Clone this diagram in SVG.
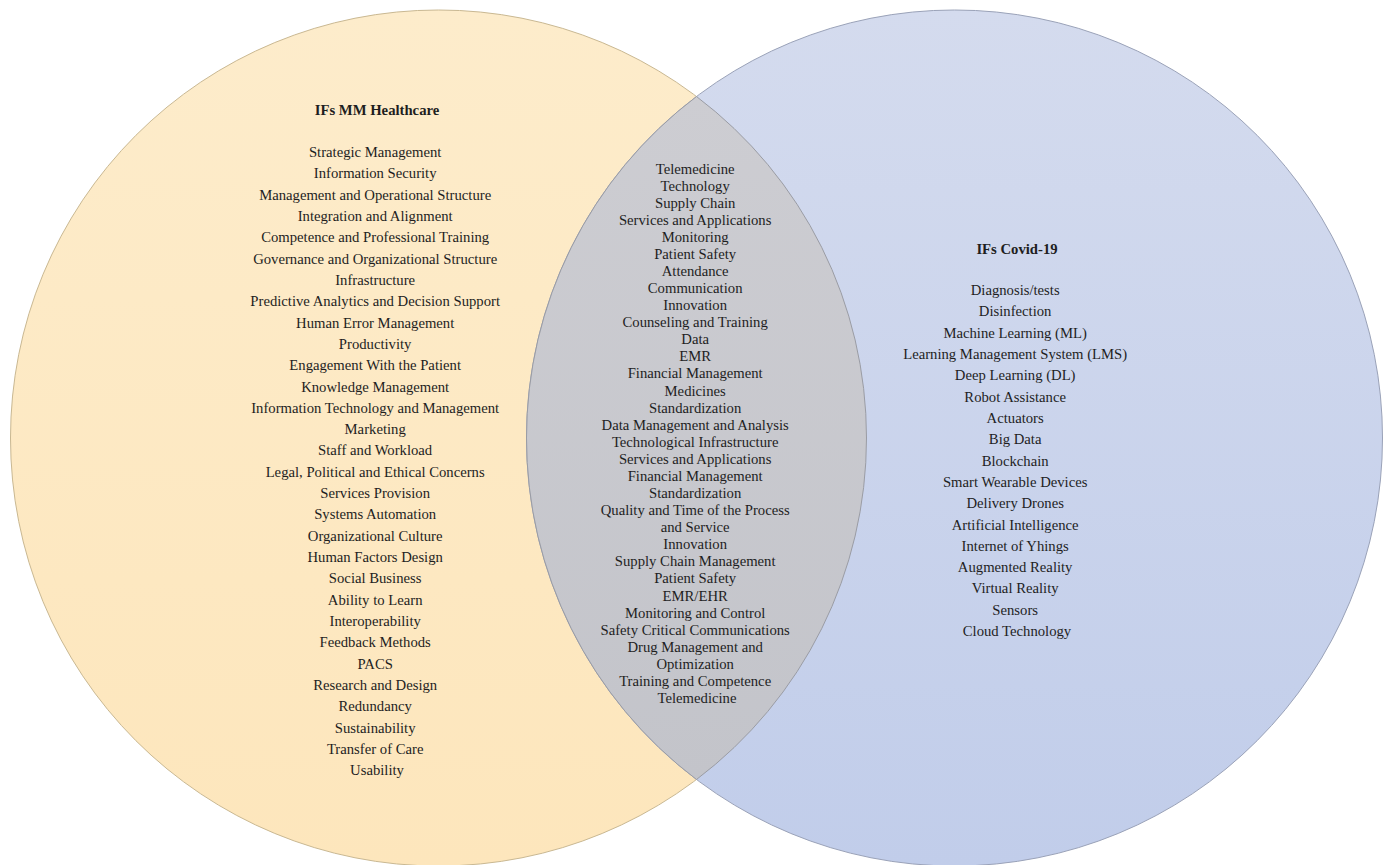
<svg xmlns="http://www.w3.org/2000/svg" width="1389" height="865" viewBox="0 0 1389 865">
<defs>
<linearGradient id="gL" x1="0" y1="0" x2="0" y2="1"><stop offset="0" stop-color="#FDECCB"/><stop offset="1" stop-color="#FDE6BC"/></linearGradient>
<linearGradient id="gR" x1="0" y1="0" x2="0" y2="1"><stop offset="0" stop-color="#D4DBEE"/><stop offset="1" stop-color="#C1CDEA"/></linearGradient>
<linearGradient id="gM" x1="0" y1="0" x2="0" y2="1"><stop offset="0" stop-color="#CDCDD2"/><stop offset="1" stop-color="#C3C4CA"/></linearGradient>
<style>
.t{font-family:"Liberation Serif","Times New Roman",serif;font-size:14.7px;fill:#1E1E1E;text-anchor:middle}
.h{font-weight:bold}
</style>
</defs>
<rect width="1389" height="865" fill="#FFFFFF"/>
<g id="set-healthcare">
<circle cx="438.5" cy="438" r="428" fill="url(#gL)" stroke="#C9B892" stroke-width="1"/>
</g>
<g id="set-covid">
<circle cx="954.5" cy="438" r="428" fill="url(#gR)" stroke="#9AA2B8" stroke-width="1"/>
</g>
<g id="set-overlap">
<path d="M696.5 96.5 A428 428 0 0 1 696.5 779.5 A428 428 0 0 1 696.5 96.5 Z" fill="url(#gM)" stroke="#9A9CA4" stroke-width="1"/>
</g>
<g id="connectors"/>
<g id="label-healthcare">
<text class="t h" x="377" y="115">IFs MM Healthcare</text>
<text class="t">
<tspan x="377" y="157">Strategic Management</tspan>
<tspan x="377" y="178.32">Information Security</tspan>
<tspan x="377" y="199.64">Management and Operational Structure</tspan>
<tspan x="377" y="220.96">Integration and Alignment</tspan>
<tspan x="377" y="242.28">Competence and Professional Training</tspan>
<tspan x="377" y="263.6">Governance and Organizational Structure</tspan>
<tspan x="377" y="284.92">Infrastructure</tspan>
<tspan x="377" y="306.24">Predictive Analytics and Decision Support</tspan>
<tspan x="377" y="327.56">Human Error Management</tspan>
<tspan x="377" y="348.88">Productivity</tspan>
<tspan x="377" y="370.2">Engagement With the Patient</tspan>
<tspan x="377" y="391.52">Knowledge Management</tspan>
<tspan x="377" y="412.84">Information Technology and Management</tspan>
<tspan x="377" y="434.16">Marketing</tspan>
<tspan x="377" y="455.48">Staff and Workload</tspan>
<tspan x="377" y="476.8">Legal, Political and Ethical Concerns</tspan>
<tspan x="377" y="498.12">Services Provision</tspan>
<tspan x="377" y="519.44">Systems Automation</tspan>
<tspan x="377" y="540.76">Organizational Culture</tspan>
<tspan x="377" y="562.08">Human Factors Design</tspan>
<tspan x="377" y="583.4">Social Business</tspan>
<tspan x="377" y="604.72">Ability to Learn</tspan>
<tspan x="377" y="626.04">Interoperability</tspan>
<tspan x="377" y="647.36">Feedback Methods</tspan>
<tspan x="377" y="668.68">PACS</tspan>
<tspan x="377" y="690">Research and Design</tspan>
<tspan x="377" y="711.32">Redundancy</tspan>
<tspan x="377" y="732.64">Sustainability</tspan>
<tspan x="377" y="753.96">Transfer of Care</tspan>
<tspan x="377" y="775.28">Usability</tspan>
</text>
</g>
<g id="label-overlap">
<text class="t">
<tspan x="697" y="173.5">Telemedicine</tspan>
<tspan x="697" y="190.58">Technology</tspan>
<tspan x="697" y="207.66">Supply Chain</tspan>
<tspan x="697" y="224.74">Services and Applications</tspan>
<tspan x="697" y="241.82">Monitoring</tspan>
<tspan x="697" y="258.9">Patient Safety</tspan>
<tspan x="697" y="275.98">Attendance</tspan>
<tspan x="697" y="293.06">Communication</tspan>
<tspan x="697" y="310.14">Innovation</tspan>
<tspan x="697" y="327.22">Counseling and Training</tspan>
<tspan x="697" y="344.3">Data</tspan>
<tspan x="697" y="361.38">EMR</tspan>
<tspan x="697" y="378.46">Financial Management</tspan>
<tspan x="697" y="395.54">Medicines</tspan>
<tspan x="697" y="412.62">Standardization</tspan>
<tspan x="697" y="429.7">Data Management and Analysis</tspan>
<tspan x="697" y="446.78">Technological Infrastructure</tspan>
<tspan x="697" y="463.86">Services and Applications</tspan>
<tspan x="697" y="480.94">Financial Management</tspan>
<tspan x="697" y="498.02">Standardization</tspan>
<tspan x="697" y="515.1">Quality and Time of the Process</tspan>
<tspan x="697" y="532.18">and Service</tspan>
<tspan x="697" y="549.26">Innovation</tspan>
<tspan x="697" y="566.34">Supply Chain Management</tspan>
<tspan x="697" y="583.42">Patient Safety</tspan>
<tspan x="697" y="600.5">EMR/EHR</tspan>
<tspan x="697" y="617.58">Monitoring and Control</tspan>
<tspan x="697" y="634.66">Safety Critical Communications</tspan>
<tspan x="697" y="651.74">Drug Management and</tspan>
<tspan x="697" y="668.82">Optimization</tspan>
<tspan x="697" y="685.9">Training and Competence</tspan>
<tspan x="697" y="702.98">Telemedicine</tspan>
</text>
</g>
<g id="label-covid">
<text class="t h" x="1017" y="253.5">IFs Covid-19</text>
<text class="t">
<tspan x="1017" y="295">Diagnosis/tests</tspan>
<tspan x="1017" y="316.32">Disinfection</tspan>
<tspan x="1017" y="337.64">Machine Learning (ML)</tspan>
<tspan x="1017" y="358.96">Learning Management System (LMS)</tspan>
<tspan x="1017" y="380.28">Deep Learning (DL)</tspan>
<tspan x="1017" y="401.6">Robot Assistance</tspan>
<tspan x="1017" y="422.92">Actuators</tspan>
<tspan x="1017" y="444.24">Big Data</tspan>
<tspan x="1017" y="465.56">Blockchain</tspan>
<tspan x="1017" y="486.88">Smart Wearable Devices</tspan>
<tspan x="1017" y="508.2">Delivery Drones</tspan>
<tspan x="1017" y="529.52">Artificial Intelligence</tspan>
<tspan x="1017" y="550.84">Internet of Yhings</tspan>
<tspan x="1017" y="572.16">Augmented Reality</tspan>
<tspan x="1017" y="593.48">Virtual Reality</tspan>
<tspan x="1017" y="614.8">Sensors</tspan>
<tspan x="1017" y="636.12">Cloud Technology</tspan>
</text>
</g>
</svg>
